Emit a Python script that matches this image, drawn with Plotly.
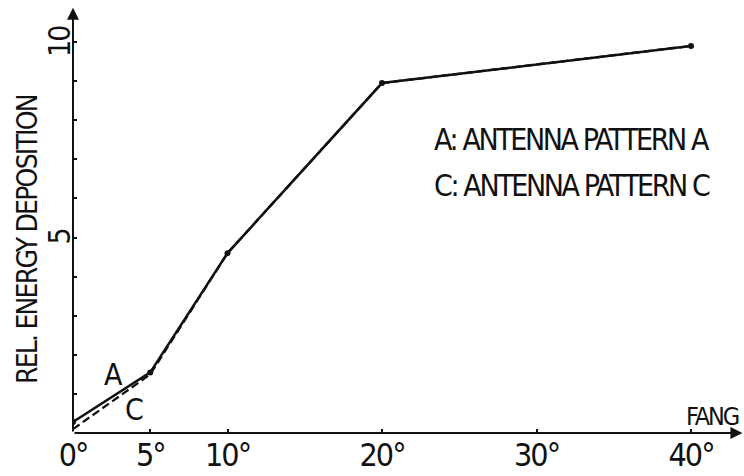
import plotly.graph_objects as go

# Opening angle (degrees) and relative energy deposition for the two antenna patterns
fang_deg = [0, 5, 10, 20, 40]
energy_a = [0.28, 1.55, 4.6, 8.95, 9.9]
energy_c = [0.10, 1.50, 4.6, 8.95, 9.9]

x_ticks = [0, 5, 10, 20, 30, 40]
x_tick_text = ["0°", "5°", "10°", "20°", "30°", "40°"]
y_ticks = list(range(0, 11))
y_label_vals = [5, 10]
y_label_text = ["5", "10"]

FONT = ("Noto Sans ExtraCondensed, Noto Sans Condensed, DejaVu Sans Condensed, "
        "Liberation Sans Narrow, sans-serif")
INK = "#111111"

W, H = 744, 476
ML, MB = 73, 43
X_MAX = (W - ML) / 15.45
Y_MAX = (H - MB) / 39.1


def tight(text, spacing):
    """Wrap text in a span with tighter letter spacing."""
    return f'<span style="letter-spacing:{spacing}px">{text}</span>'


fig = go.Figure()

fig.add_trace(go.Scatter(
    x=fang_deg, y=energy_c, mode="lines",
    line=dict(color=INK, width=2.3, dash="8px,4px"),
    name="C", showlegend=False,
))
fig.add_trace(go.Scatter(
    x=fang_deg, y=energy_a, mode="lines+markers",
    line=dict(color=INK, width=2.5),
    marker=dict(color=INK, size=6),
    name="A", showlegend=False,
))

# Axis lines with arrowheads
fig.add_annotation(x=X_MAX - 0.1, y=0, ax=0, ay=0, xref="x", yref="y",
                   axref="x", ayref="y", showarrow=True, arrowhead=2,
                   arrowsize=1.2, arrowwidth=2, arrowcolor=INK, text="")
fig.add_annotation(x=0, y=Y_MAX - 0.2, ax=0, ay=0, xref="x", yref="y",
                   axref="x", ayref="y", showarrow=True, arrowhead=2,
                   arrowsize=1.2, arrowwidth=2, arrowcolor=INK, text="")


def px_label(text, px, py, size, angle=0, xanchor="center"):
    """Place a text label at a pixel position of the figure."""
    fig.add_annotation(x=(px - ML) / (W - ML), y=(H - MB - py) / (H - MB),
                       xref="paper", yref="paper", text=text,
                       showarrow=False, textangle=angle,
                       xanchor=xanchor, yanchor="middle",
                       font=dict(family=FONT, size=size, color=INK))


def data_label(text, x, y, size):
    fig.add_annotation(x=x, y=y, xref="x", yref="y", text=text,
                       showarrow=False, xanchor="center", yanchor="middle",
                       font=dict(family=FONT, size=size, color=INK))


# Rotated y tick labels, left of the axis at their data values
for val, txt in zip(y_label_vals, y_label_text):
    fig.add_annotation(x=(59 - ML) / (W - ML), y=val, xref="paper", yref="y",
                       text=tight(txt, -2), showarrow=False, textangle=-90,
                       xanchor="center", yanchor="middle",
                       font=dict(family=FONT, size=30, color=INK))

# Axis titles
px_label(tight("REL. ENERGY DEPOSITION", -1.8), 28, 240, 28, angle=-90)
px_label(tight("FANG", -2), 741, 416, 25, xanchor="right")

# Curve labels and key
data_label("A", 2.6, 1.5, 30)
data_label("C", 4.0, 0.6, 30)
px_label(tight("A: ANTENNA PATTERN A", -2.4), 432, 139, 30, xanchor="left")
px_label(tight("C: ANTENNA PATTERN C", -2.4), 432, 185, 30, xanchor="left")

fig.update_layout(
    width=W, height=H,
    margin=dict(l=ML, r=0, t=0, b=MB),
    paper_bgcolor="white", plot_bgcolor="white",
    showlegend=False,
    xaxis=dict(range=[0, X_MAX], tickvals=x_ticks,
               ticktext=[tight(t, -2) for t in x_tick_text],
               ticks="inside", ticklen=4, tickwidth=2, tickcolor=INK,
               showgrid=False, zeroline=False, showline=False,
               tickfont=dict(family=FONT, size=32, color=INK)),
    yaxis=dict(range=[0, Y_MAX], tickvals=y_ticks, showticklabels=False,
               ticks="inside", ticklen=4, tickwidth=2, tickcolor=INK,
               showgrid=False, zeroline=False, showline=False),
)

fig.write_html("out.html")
